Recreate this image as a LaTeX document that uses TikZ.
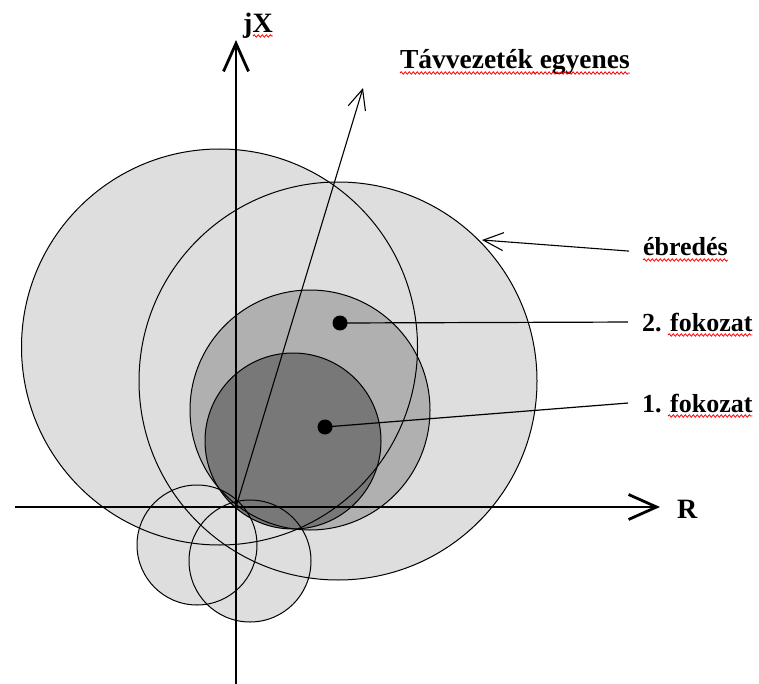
\documentclass[tikz,border=0pt]{standalone}
\usepackage{fontspec}
\setmainfont{Liberation Serif}
\usetikzlibrary{arrows.meta,decorations.pathmorphing}
\definecolor{lightg}{gray}{0.87}
\definecolor{midg}{gray}{0.69}
\definecolor{darkg}{gray}{0.47}
\begin{document}
\begin{tikzpicture}[x=1pt,y=-1pt,
  circ/.style={draw=black,line width=1pt},
  axisline/.style={line width=2.8pt,-{Straight Barb[length=28pt,width=25pt,line width=2.8pt]}},
  thinarrow/.style={line width=1.1pt,-{Straight Barb[length=20pt,width=18pt,line width=1.1pt]}},
  leader/.style={line width=1.2pt},
  lbl/.style={font=\fontsize{26}{28}\selectfont\bfseries,inner sep=0pt,outer xsep=14pt,anchor=base west},
  axlbl/.style={font=\fontsize{28}{30}\selectfont\bfseries,inner sep=0pt,anchor=base west},
  dot/.style={circle,fill=black,inner sep=0pt,minimum size=15pt},
  squig/.style={red,line width=0.8pt,decorate,decoration={snake,amplitude=1.2pt,segment length=4pt}}]
\useasboundingbox (0,0) rectangle (759,684);
% fills
\fill[lightg] (219.5,347) circle (198);
\fill[lightg] (338,381) circle (199);
\fill[lightg] (197,545) circle (60);
\fill[lightg] (250,561) circle (61);
\fill[midg] (310,410) circle (120);
\fill[darkg] (293,441) circle (88);
% outlines
\draw[circ] (219.5,347) circle (198);
\draw[circ] (338,381) circle (199);
\draw[circ] (197,545) circle (60);
\draw[circ] (250,561) circle (61);
\draw[circ] (310,410) circle (120);
\draw[circ] (293,441) circle (88);
% axes
\coordinate (O) at (236,507);
\coordinate (xs) at (15,507);
\coordinate (xe) at (660,507);
\coordinate (ys) at (236,684);
\coordinate (ye) at (236,40);
\draw[axisline] (xs) -- (xe);
\draw[axisline] (ys) -- (ye);
\node[axlbl] (R) at (677,518) {R};
\node[axlbl] (jX) at (243,33) {jX};
% transmission line
\coordinate (tl) at (363,88);
\draw[thinarrow] (O) -- (tl);
\node[lbl,outer xsep=0pt,font=\fontsize{27.5}{29}\selectfont\bfseries] (tlt) at (400,69) {Távvezeték egyenes};
% labels
\node[lbl] (ebr) at (629,256) {ébredés};
\node[lbl] (l2) at (628,331) {2. fokozat};
\node[lbl] (l1) at (628,412) {1. fokozat};
\coordinate (bpt) at (482,240);
\draw[thinarrow] ([yshift=-4pt]ebr.west) -- (bpt);
\node[dot] (d2) at (340,323) {};
\node[dot] (d1) at (325,427) {};
\draw[leader] (d2.center) -- (l2.west);
\draw[leader] (d1.center) -- (l1.west);
% spell-check underlines
\draw[squig] ([yshift=-4pt]tlt.base west) -- ++(136,0);
\draw[squig] ([yshift=-4pt,xshift=-98pt]tlt.base east) -- ([yshift=-4pt]tlt.base east);
\draw[squig] ([yshift=-4pt,xshift=14pt]ebr.base west) -- ([yshift=-4pt,xshift=-14pt]ebr.base east);
\draw[squig] ([yshift=-4pt,xshift=40pt]l2.base west) -- ([yshift=-4pt,xshift=-14pt]l2.base east);
\draw[squig] ([yshift=-4pt,xshift=40pt]l1.base west) -- ([yshift=-4pt,xshift=-14pt]l1.base east);
\draw[squig] ([yshift=-3pt,xshift=10pt]jX.base west) -- ([yshift=-3pt]jX.base east);
\end{tikzpicture}
\end{document}
